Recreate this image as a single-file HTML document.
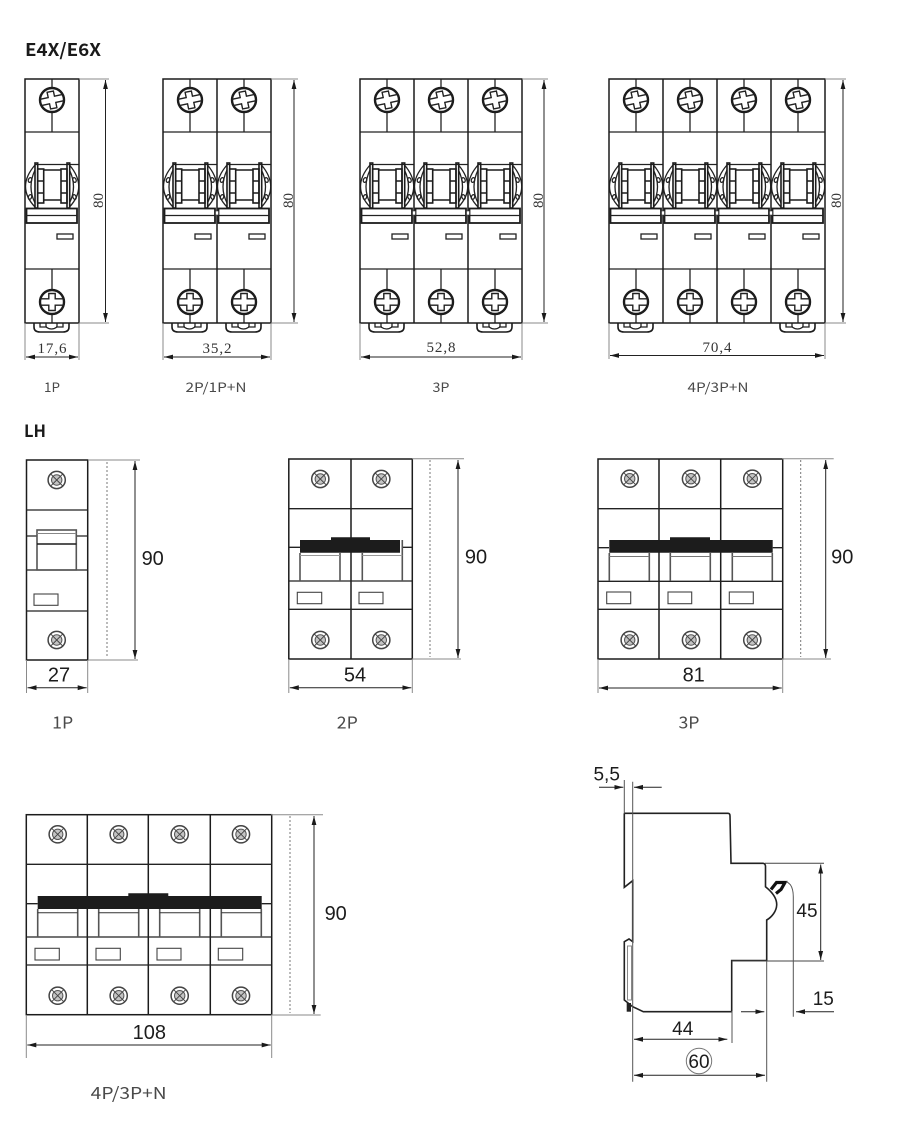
<!DOCTYPE html>
<html><head><meta charset="utf-8"><style>
html,body{margin:0;padding:0;background:#fff}
svg{display:block}
.s{fill:none;stroke:#222;stroke-width:1.3}
.b{fill:none;stroke:#1c1c1c;stroke-width:1.6}
.o{fill:none;stroke:#1c1c1c;stroke-width:1.5}
.g{fill:none;stroke:#8a8a8a;stroke-width:1}
.hw{fill:none;stroke:#555;stroke-width:1.6}
.d{fill:none;stroke:#222;stroke-width:1;marker-start:url(#a);marker-end:url(#a)}
.e{fill:none;stroke:#222;stroke-width:1;marker-end:url(#a)}
.dot{fill:none;stroke:#777;stroke-width:1;stroke-dasharray:2 2}
.h{font-family:"Noto Sans CJK SC","Liberation Sans",sans-serif;font-weight:700;fill:#1a1a1a}
.l{font-family:"Noto Sans CJK SC","Liberation Sans",sans-serif;font-weight:400;fill:#4a4a4a;text-anchor:middle}
.t{font-family:"Liberation Serif",serif;font-size:15px;fill:#333;text-anchor:middle}
.n{font-family:"Liberation Sans",sans-serif;font-size:20px;fill:#1c1c1c;text-anchor:middle}
.m{font-family:"Liberation Sans",sans-serif;font-size:19px;fill:#1c1c1c;text-anchor:middle}
</style></head><body>
<svg width="900" height="1136" viewBox="0 0 900 1136" xmlns="http://www.w3.org/2000/svg">
<defs>
<marker id="a" markerUnits="userSpaceOnUse" markerWidth="10" markerHeight="6" refX="9" refY="3" orient="auto-start-reverse" viewBox="0 0 10 6"><path d="M0 0.6L9 3L0 5.4Z" fill="#1a1a1a"/></marker>
<g id="cross"><path d="M-11.500 -3.200H-3.200V-8.500H3.200V-3.200H11.500M-11.500 3.200H-3.200V8.500H3.200V3.200H11.500" fill="none" stroke="#222" stroke-width="1.400"/></g>
<g id="p">
<path class="s" d="M0 53H54M0 190H54M27 0V9M27 33V53M27 190V211M27 235V244"/>
<circle cx="27" cy="21" r="12" fill="#fff" stroke="#1c1c1c" stroke-width="2.400"/>
<use href="#cross" transform="translate(27 21) rotate(-12)"/>
<circle cx="27" cy="223" r="12" fill="#fff" stroke="#1c1c1c" stroke-width="2.400"/>
<use href="#cross" transform="translate(27 223)"/>
<path class="s" d="M10 85.500H54M10 86Q-9 108 10 128M44.500 86Q63 108 44.500 128M10 91Q2 108 10 124M44.500 91Q52.500 108 44.500 124"/>
<rect class="b" x="10" y="84" width="2.700" height="45"/>
<rect class="b" x="42" y="84" width="2.700" height="45"/>
<rect class="b" x="12.700" y="90" width="6" height="34"/>
<rect class="b" x="36" y="90" width="6" height="34"/>
<path class="b" d="M18.700 91H36M18.700 121H36M12.700 102H18.700M36 102H42M12.700 114H18.700M36 114H42"/>
<ellipse class="s" cx="5" cy="101" rx="1.600" ry="2.400" transform="rotate(20 5 101)"/>
<ellipse class="s" cx="5" cy="118" rx="1.600" ry="2.400" transform="rotate(20 5 118)"/>
<ellipse class="s" cx="49.500" cy="101" rx="1.600" ry="2.400" transform="rotate(-20 49.500 101)"/>
<ellipse class="s" cx="49.500" cy="118" rx="1.600" ry="2.400" transform="rotate(-20 49.500 118)"/>
<rect x="1.500" y="129.500" width="50.500" height="14.500" fill="#fff" stroke="#1c1c1c" stroke-width="1.800"/>
<path class="s" d="M1.500 136.500H52"/>
<rect x="32" y="155" width="16" height="5" fill="#fff" stroke="#222" stroke-width="1.300"/>
</g>
<g id="c"><path class="b" d="M9 244V248Q9 253 15 253H38Q44 253 44 248V244"/><path class="s" d="M15 244V248H22M31 248H38V244M21 248Q26.500 252 32 248M21 244V248M32 244V248"/></g>
<g id="sw">
<circle r="8.600" fill="#fff" stroke="#444" stroke-width="1.500"/>
<circle r="5.200" fill="#c4c4c4" stroke="#555" stroke-width="1"/>
<path d="M-4 -4L4 4M-4 4L4 -4M-6 -6L-3.500 -3.500M6 -6L3.500 -3.500M-6 6L-3.500 3.500M6 6L3.500 3.500" stroke="#444" stroke-width=".9" fill="none"/>
</g>
</defs>
<rect width="900" height="1136" fill="#fff"/>

<text class="h" x="25" y="56" font-size="17.500" textLength="76" lengthAdjust="spacingAndGlyphs">E4X/E6X</text>

<!-- E4X 1P -->
<use href="#p" x="25" y="79"/><use href="#c" x="25" y="79"/>
<rect class="o" x="25" y="79" width="54" height="244"/>
<path class="g" d="M79 79H109M79 323H109M25 323V360M79 323V360"/>
<path class="d" d="M105.500 80V322"/>
<path class="d" d="M26 357H78"/>
<text class="t" transform="translate(103 200.500) rotate(-90)">80</text>
<text class="t" x="52" y="353" textLength="29" lengthAdjust="spacing">17,6</text>
<text class="l" x="52" y="392" font-size="13" textLength="16" lengthAdjust="spacingAndGlyphs">1P</text>

<!-- E4X 2P -->
<use href="#p" x="163" y="79"/><use href="#p" x="217" y="79"/>
<use href="#c" x="163" y="79"/><use href="#c" x="217" y="79"/>
<rect class="o" x="163" y="79" width="108" height="244"/>
<path class="o" d="M217 79V323"/>
<rect x="215.500" y="211" width="3" height="4" fill="#fff" stroke="#333" stroke-width=".6"/>
<path class="g" d="M271 79H298M271 323H298M163 323V360M271 323V360"/>
<path class="d" d="M294 80V322"/>
<path class="d" d="M164 357H270"/>
<text class="t" transform="translate(293 200.500) rotate(-90)">80</text>
<text class="t" x="217" y="353" textLength="29" lengthAdjust="spacing">35,2</text>
<text class="l" x="216" y="392" font-size="13" textLength="61" lengthAdjust="spacingAndGlyphs">2P/1P+N</text>

<!-- E4X 3P -->
<use href="#p" x="360" y="79"/><use href="#p" x="414" y="79"/><use href="#p" x="468" y="79"/>
<use href="#c" x="360" y="79"/><use href="#c" x="468" y="79"/>
<rect class="o" x="360" y="79" width="162" height="244"/>
<path class="o" d="M414 79V323M468 79V323"/>
<rect x="412.500" y="211" width="3" height="4" fill="#fff" stroke="#333" stroke-width=".6"/>
<rect x="466.500" y="211" width="3" height="4" fill="#fff" stroke="#333" stroke-width=".6"/>
<path class="g" d="M522 79H548M522 323H548M360 323V360M522 323V360"/>
<path class="d" d="M544 80V322"/>
<path class="d" d="M361 357H521"/>
<text class="t" transform="translate(543 200.500) rotate(-90)">80</text>
<text class="t" x="441" y="352" textLength="29" lengthAdjust="spacing">52,8</text>
<text class="l" x="441" y="392" font-size="13" textLength="17" lengthAdjust="spacingAndGlyphs">3P</text>

<!-- E4X 4P -->
<use href="#p" x="609" y="79"/><use href="#p" x="663" y="79"/><use href="#p" x="717" y="79"/><use href="#p" x="771" y="79"/>
<use href="#c" x="609" y="79"/><use href="#c" x="771" y="79"/>
<rect class="o" x="609" y="79" width="216" height="244"/>
<path class="o" d="M663 79V323M717 79V323M771 79V323"/>
<rect x="661.500" y="211" width="3" height="4" fill="#fff" stroke="#333" stroke-width=".6"/>
<rect x="715.500" y="211" width="3" height="4" fill="#fff" stroke="#333" stroke-width=".6"/>
<rect x="769.500" y="211" width="3" height="4" fill="#fff" stroke="#333" stroke-width=".6"/>
<path class="g" d="M825 79H846M825 323H846M609 323V359M825 323V359"/>
<path class="d" d="M843 80V322"/>
<path class="d" d="M610 355.500H824"/>
<text class="t" transform="translate(841 200.500) rotate(-90)">80</text>
<text class="t" x="717" y="352" textLength="29" lengthAdjust="spacing">70,4</text>
<text class="l" x="718" y="392" font-size="13" textLength="61" lengthAdjust="spacingAndGlyphs">4P/3P+N</text>

<text class="h" x="24" y="437" font-size="17" textLength="22" lengthAdjust="spacingAndGlyphs">LH</text>

<!-- LH 1P -->
<rect class="o" x="26.500" y="460" width="61.200" height="200"/>
<path class="s" d="M26.500 510H87.700M26.500 536H37M76.300 536H87.700M26.500 570H87.700M26.500 611H87.700"/>
<rect class="hw" x="37" y="530" width="39.300" height="40"/>
<path d="M37 533.500H76.300" stroke="#888" fill="none"/><path class="b" d="M37 544H76.300"/>
<rect x="34" y="594" width="24" height="11.300" fill="#fff" stroke="#444" stroke-width="1.100"/>
<use href="#sw" x="56.700" y="480"/><use href="#sw" x="56.700" y="640"/>
<path class="g" d="M88 460H140M88 660H138M26.500 660V693M87.700 660V693"/>
<path class="dot" d="M107 462V657"/>
<path class="d" d="M135 461V659"/>
<path class="d" d="M27.500 687.700H86.700"/>
<text class="n" x="152.700" y="565">90</text>
<text class="n" x="59" y="681.500">27</text>
<text class="l" x="62.700" y="728.500" font-size="16.500" textLength="21" lengthAdjust="spacingAndGlyphs">1P</text>

<!-- LH 2P -->
<rect class="o" x="288.800" y="459" width="123.500" height="200"/>
<path class="o" d="M351 459V659"/>
<path class="s" d="M288.800 508.700H412.300M288.800 547.300H300M402 547.300H412.300M288.800 581H412.300M288.800 609.300H412.300"/>
<path class="hw" d="M300 553V581M340 553V581M362.300 553V581M402.300 540V581"/>
<path d="M300 555.500H340M362.300 555.500H402.300" stroke="#999" fill="none" stroke-width="1"/>
<path d="M300 540H331V537.300H370V540H400V552.700H300Z" fill="#1c1c1c"/>
<rect x="297.300" y="592.300" width="24.400" height="11.400" fill="#fff" stroke="#444" stroke-width="1.100"/>
<rect x="359" y="592.300" width="24" height="11.400" fill="#fff" stroke="#444" stroke-width="1.100"/>
<use href="#sw" x="320.300" y="479"/><use href="#sw" x="381.300" y="479"/><use href="#sw" x="320.300" y="640"/><use href="#sw" x="381.300" y="640"/>
<path class="g" d="M412 458.700H464M412 659H461M288.800 659V693M412.300 659V693"/>
<path class="dot" d="M430 460V657"/>
<path class="d" d="M458 460V658"/>
<path class="d" d="M289.800 687.700H411.300"/>
<text class="n" x="476" y="563.500">90</text>
<text class="n" x="355" y="681.500">54</text>
<text class="l" x="347.300" y="728.500" font-size="16.500" textLength="21" lengthAdjust="spacingAndGlyphs">2P</text>

<!-- LH 3P -->
<rect class="o" x="598" y="459" width="184.700" height="200"/>
<path class="o" d="M659 459V659M720.700 459V659"/>
<path class="s" d="M598 508.700H782.700M598 547.700H609M772.700 547.700H782.700M598 581.300H782.700M598 609.300H782.700"/>
<path class="hw" d="M609.300 553V581M649.300 553V581M670.300 553V581M710.300 553V581M732.300 553V581M772.300 553V581"/>
<path d="M609.300 556.500H649.300M670.300 556.500H710.300M732.300 556.500H772.300" stroke="#777" fill="none" stroke-width="1"/>
<path d="M609.300 540H670V537.300H710V540H772.700V552.700H609.300Z" fill="#1c1c1c"/>
<rect x="606.700" y="592" width="24" height="11.700" fill="#fff" stroke="#444" stroke-width="1.100"/>
<rect x="668" y="592" width="23.700" height="11.700" fill="#fff" stroke="#444" stroke-width="1.100"/>
<rect x="729.300" y="592" width="24" height="11.700" fill="#fff" stroke="#444" stroke-width="1.100"/>
<use href="#sw" x="629.700" y="478.700"/><use href="#sw" x="691" y="478.700"/><use href="#sw" x="752.300" y="478.700"/>
<use href="#sw" x="629.700" y="640"/><use href="#sw" x="691" y="640"/><use href="#sw" x="752.300" y="640"/>
<path class="g" d="M782 458.700H833.700M782 659H831M598 659V693M782.700 659V693"/>
<path class="dot" d="M800.700 460V657"/>
<path class="d" d="M825.700 460V658"/>
<path class="d" d="M599 688H781.700"/>
<text class="n" x="842.300" y="563.500">90</text>
<text class="n" x="693.700" y="681.500">81</text>
<text class="l" x="689" y="728.500" font-size="16.500" textLength="21" lengthAdjust="spacingAndGlyphs">3P</text>

<!-- LH 4P -->
<rect class="o" x="26.300" y="814.700" width="245.400" height="200"/>
<path class="o" d="M87.300 814.700V1014.700M148.300 814.700V1014.700M210.300 814.700V1014.700"/>
<path class="s" d="M26.300 864.300H271.700M26.300 903.700H37.700M261.700 903.700H271.700M26.300 937H271.700M26.300 965H271.700"/>
<path class="hw" d="M37.700 909V937M77.700 909V937M98.700 909V937M138.700 909V937M159.700 909V937M199.700 909V937M221.300 909V937M261.300 909V937"/>
<path d="M37.700 912.700H77.700M98.700 912.700H138.700M159.700 912.700H199.700M221.300 912.700H261.300" stroke="#333" fill="none" stroke-width="1"/>
<path d="M37.700 896H128.300V893.300H168.300V896H261.700V909H37.700Z" fill="#1c1c1c"/>
<rect x="35" y="948.300" width="24.300" height="11.700" fill="#fff" stroke="#444" stroke-width="1.100"/>
<rect x="96" y="948.300" width="24.300" height="11.700" fill="#fff" stroke="#444" stroke-width="1.100"/>
<rect x="157" y="948.300" width="24" height="11.700" fill="#fff" stroke="#444" stroke-width="1.100"/>
<rect x="218.300" y="948.300" width="24.400" height="11.700" fill="#fff" stroke="#444" stroke-width="1.100"/>
<use href="#sw" x="57.700" y="834.300"/><use href="#sw" x="118.700" y="834.300"/><use href="#sw" x="179.700" y="834.300"/><use href="#sw" x="241" y="834.300"/>
<use href="#sw" x="57.700" y="995.700"/><use href="#sw" x="118.700" y="995.700"/><use href="#sw" x="179.700" y="995.700"/><use href="#sw" x="241" y="995.700"/>
<path class="g" d="M271 814.700H323M271 1015H320.700M26.300 1015V1058M271.700 1015V1058"/>
<path class="dot" d="M290 816V1013"/>
<path class="d" d="M314 816V1014"/>
<path class="d" d="M27.300 1045H270.700"/>
<text class="n" x="335.700" y="920">90</text>
<text class="n" x="149.300" y="1039">108</text>
<text class="l" x="128.700" y="1099" font-size="16.500" textLength="76" lengthAdjust="spacingAndGlyphs">4P/3P+N</text>

<!-- Side view -->
<path fill="none" stroke="#222" stroke-width="1.600" d="M624.300 813.300H728Q730 813.300 730 816L731 863.300H763Q765 863.300 765.500 866V886.700C772 892 777 898 776.700 905C776.500 911 772 917 766.700 920V960.500H731.700V1011.700H643.300L632.700 1006.700L624.300 1000V941.700L629 939L632.700 941.700V880.700L624.300 887.300V813.300"/>
<path d="M731.700 961H824M765 863.300H824" stroke="#444" stroke-width="1" fill="none"/>
<rect x="627.500" y="946" width="4" height="54" fill="#fff" stroke="#888" stroke-width="1"/>
<rect x="626.700" y="1003" width="4.300" height="8.700" fill="#222"/>
<path d="M771 889.500L776.500 882.500H785L781 889.500L776 893.500" fill="none" stroke="#111" stroke-width="3.200"/>
<path d="M786 881.700Q793.300 884 793.300 897V1016.700" fill="none" stroke="#555" stroke-width="1"/>
<path d="M624.300 780V813M632.700 781.700V1081.700M766.700 961V1081.700M732 1011V1043" fill="none" stroke="#555" stroke-width="1"/>
<path class="d" d="M820.700 864.500V960"/>
<path class="e" d="M599 787.300H623.300"/>
<path class="e" d="M661.700 787.300H634"/>
<path class="e" d="M741 1011.700H764.300"/>
<path class="e" d="M834 1011.700H796"/>
<path class="d" d="M634 1039.300H727.300"/>
<path class="d" d="M634 1075.300H765"/>
<circle cx="699" cy="1061" r="12.700" fill="#fff" stroke="#777" stroke-width="1"/>
<text class="m" x="606.700" y="780.500">5,5</text>
<text class="m" x="807" y="917">45</text>
<text class="m" x="823.300" y="1005">15</text>
<text class="m" x="682.700" y="1034.800">44</text>
<text class="m" x="699" y="1067.800">60</text>
</svg>
</body></html>
